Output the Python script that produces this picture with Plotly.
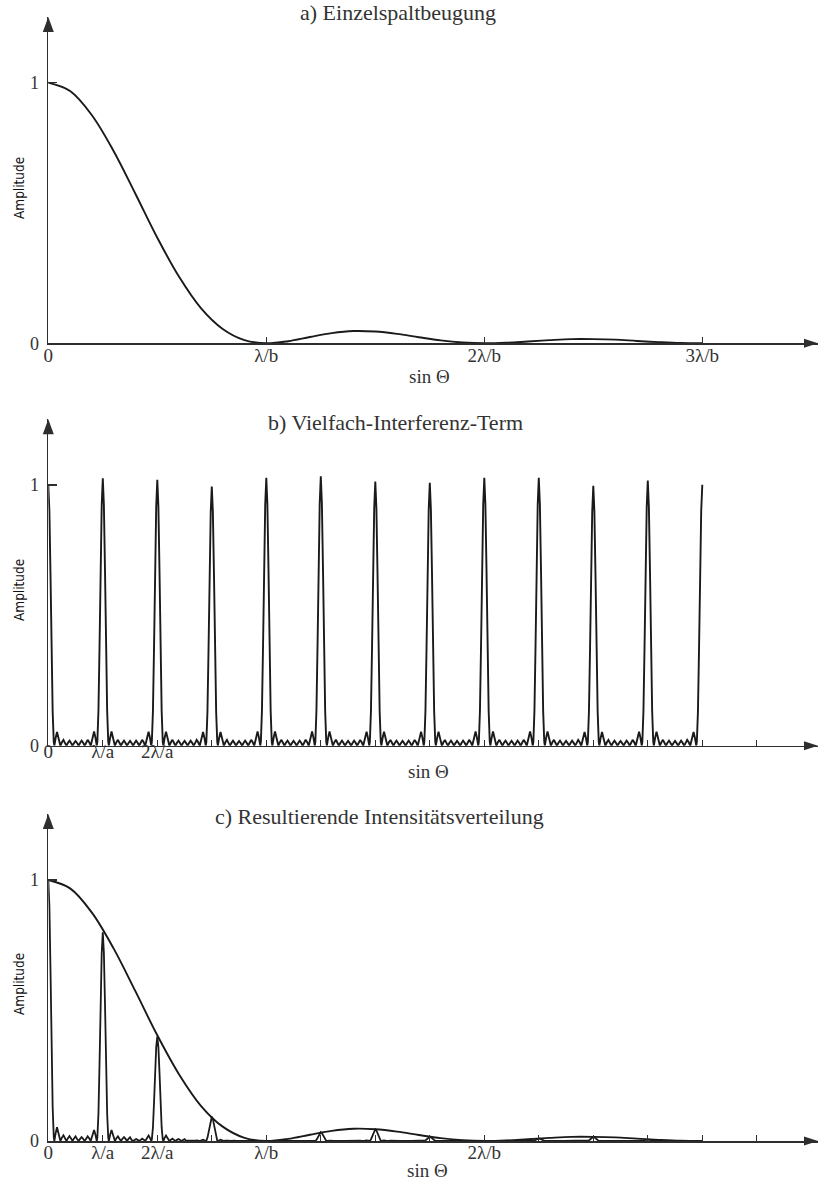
import plotly.graph_objects as go

W, H = 819, 1184

# ---------------- data ----------------
# single-slit envelope, sin Θ in units of λ/b
ENV_X = [0.0, 0.1, 0.2, 0.3, 0.4, 0.5, 0.6, 0.7, 0.8, 0.9, 1.0,
         1.1, 1.2, 1.3, 1.4, 1.5, 1.6, 1.7, 1.8, 1.9, 2.0,
         2.1, 2.2, 2.3, 2.4, 2.5, 2.6, 2.7, 2.8, 2.9, 3.0]
ENV_Y = [1.0, 0.968, 0.875, 0.737, 0.573, 0.405, 0.255, 0.135, 0.055, 0.012, 0.0,
         0.008, 0.024, 0.039, 0.047, 0.045, 0.036, 0.023, 0.011, 0.003, 0.0,
         0.002, 0.007, 0.012, 0.016, 0.016, 0.014, 0.009, 0.0045, 0.001, 0.0]

# multi-slit term: shape of one period around a principal maximum
# (offset in units of λ/a, mirrored on both sides of each maximum)
GRATING_OFFSETS = [0.0, 0.02, 0.04, 0.06, 0.08, 0.10, 0.111, 0.135, 0.16, 0.19, 0.222,
                   0.25, 0.278, 0.305, 0.333, 0.361, 0.389, 0.417, 0.444, 0.472, 0.5]
GRATING_PROFILE = [1.0, 0.90, 0.66, 0.37, 0.13, 0.015, 0.0, 0.030, 0.053, 0.027, 0.0,
                   0.013, 0.022, 0.011, 0.0, 0.011, 0.019, 0.010, 0.0, 0.010, 0.018]

ORDERS = [0, 1, 2, 3, 4, 5, 6, 7, 8, 9, 10, 11, 12]
PEAK_HEIGHTS_B = [1.0, 1.026, 1.02, 0.994, 1.028, 1.033, 1.013, 1.008, 1.028, 1.028, 0.997, 1.017, 1.001]
PEAK_HEIGHTS_C = [1.0, 0.80, 0.40, 0.093, 0.0, 0.034, 0.045, 0.016, 0.0, 0.010, 0.016, 0.006, 0.0]
A_OVER_B = 4  # λ/a = (λ/b) / 4

TICKS_A = [0, 1, 2, 3]
TICKTEXT_A = ["0", "λ/b", "2λ/b", "3λ/b"]
TICKS_BC = [0, 0.25, 0.5, 0.75, 1.0, 1.25, 1.5, 1.75, 2.0, 2.25, 2.5, 2.75, 3.0, 3.25]
TICKTEXT_B = ["0", "λ/a", "2λ/a", "", "", "", "", "", "", "", "", "", "", ""]
TICKTEXT_C = ["0", "λ/a", "2λ/a", "", "λ/b", "", "", "", "2λ/b", "", "", "", "", ""]
YTICKS = [0, 1]
YTICKTEXT = ["0", "1"]

TITLES = ["a) Einzelspaltbeugung", "b) Vielfach-Interferenz-Term",
          "c) Resultierende Intensitätsverteilung"]


def grating_curve(heights):
    xs, ys = [], []
    last = len(ORDERS) - 1
    for k, h in zip(ORDERS, heights):
        if k > 0:
            for d, v in zip(reversed(GRATING_OFFSETS), reversed(GRATING_PROFILE)):
                if d == 0.5:
                    continue
                xs.append((k - d) / A_OVER_B)
                ys.append(h * v)
        if k < last:
            for d, v in zip(GRATING_OFFSETS, GRATING_PROFILE):
                if d == 0 and k > 0:
                    continue
                xs.append((k + d) / A_OVER_B)
                ys.append(h * v)
    return xs, ys


def px(xp):
    return xp / W


def py(yp):
    return 1 - yp / H


# ---------------- geometry (window pixels) ----------------
X0, XR, PX_LB = 48.3, 818.0, 218.0
XMAX = (XR - X0) / PX_LB
YMAX = 1.2525
# (axis pixel row, pixels per unit)
PANELS = [(343.3, 260.6), (745.7, 260.7), (1141.0, 261.0)]

LINE = "#1a1a1a"
AXC = "#2e2e2e"
SERIF = "Liberation Serif, Times New Roman, serif"
SANS_C = "DejaVu Sans Condensed, DejaVu Sans, sans-serif"

fig = go.Figure()

fig.add_trace(go.Scatter(x=ENV_X, y=ENV_Y, mode="lines", line=dict(color=LINE, width=1.9, shape="spline"),
                         xaxis="x", yaxis="y", showlegend=False, hoverinfo="skip"))
bx, by = grating_curve(PEAK_HEIGHTS_B)
fig.add_trace(go.Scatter(x=bx, y=by, mode="lines", line=dict(color=LINE, width=1.9),
                         xaxis="x2", yaxis="y2", showlegend=False, hoverinfo="skip"))
cx, cy = grating_curve(PEAK_HEIGHTS_C)
fig.add_trace(go.Scatter(x=cx, y=cy, mode="lines", line=dict(color=LINE, width=1.8),
                         xaxis="x3", yaxis="y3", showlegend=False, hoverinfo="skip"))
fig.add_trace(go.Scatter(x=ENV_X, y=ENV_Y, mode="lines", line=dict(color=LINE, width=1.9, shape="spline"),
                         xaxis="x3", yaxis="y3", showlegend=False, hoverinfo="skip"))

layout = dict(width=W, height=H, margin=dict(l=0, r=0, t=0, b=0, autoexpand=False),
              paper_bgcolor="white", plot_bgcolor="white", showlegend=False)

xtick_sets = [(TICKS_A, TICKTEXT_A, -6), (TICKS_BC, TICKTEXT_B, -12), (TICKS_BC, TICKTEXT_C, -6)]
shapes, annotations = [], []
xd = [px(X0), px(XR)]
for i, ((axis_px, scale), (tv, tt, stand)) in enumerate(zip(PANELS, xtick_sets)):
    n = "" if i == 0 else str(i + 1)
    top_px = axis_px - YMAX * scale
    yd = [py(axis_px), py(top_px)]
    layout["xaxis" + n] = dict(domain=xd, range=[0, XMAX], anchor="y" + n, automargin=False,
                               showline=True, linecolor=AXC, linewidth=1.6, mirror=False,
                               ticks="inside", ticklen=6, tickwidth=1.3, tickcolor=AXC,
                               tickvals=tv, ticktext=tt, ticklabelstandoff=stand,
                               tickfont=dict(family=SERIF, size=19, color="#333"),
                               showgrid=False, zeroline=False, fixedrange=True)
    layout["yaxis" + n] = dict(domain=yd, range=[0, YMAX], anchor="x" + n, automargin=False,
                               showline=True, linecolor=AXC, linewidth=1.6,
                               ticks="inside", ticklen=9, tickwidth=1.3, tickcolor=AXC,
                               tickvals=YTICKS, ticktext=YTICKTEXT, ticklabelstandoff=4,
                               tickfont=dict(family=SERIF, size=18, color="#333"),
                               showgrid=False, zeroline=False, fixedrange=True)
    # arrowheads at the axis ends
    shapes.append(dict(type="path", xref="paper", yref="paper", xsizemode="pixel", ysizemode="pixel",
                       xanchor=px(XR), yanchor=py(axis_px),
                       path="M 0,0 L -14,4.5 L -14,-4.5 Z", fillcolor=AXC, line=dict(width=0)))
    shapes.append(dict(type="path", xref="paper", yref="paper", xsizemode="pixel", ysizemode="pixel",
                       xanchor=px(X0), yanchor=py(top_px),
                       path="M 0,0 L -5.5,-15 L 5.5,-15 Z", fillcolor=AXC, line=dict(width=0)))

TITLE_POS = [(398, 13), (395, 423), (379, 816)]
SIN_POS = [(429, 376), (428, 772), (427, 1170)]
AMP_POS = [(19, 188), (19, 590), (19, 984)]
for t, (tx, ty), (sx, sy), (ax_, ay_) in zip(TITLES, TITLE_POS, SIN_POS, AMP_POS):
    annotations.append(dict(text=t, x=px(tx), y=py(ty), xref="paper", yref="paper",
                            xanchor="center", yanchor="middle", showarrow=False,
                            font=dict(family=SERIF, size=22, color="#333")))
    annotations.append(dict(text="sin Θ", x=px(sx), y=py(sy), xref="paper", yref="paper",
                            xanchor="center", yanchor="middle", showarrow=False,
                            font=dict(family=SERIF, size=19, color="#333")))
    annotations.append(dict(text="Amplitude", x=px(ax_), y=py(ay_), xref="paper", yref="paper",
                            xanchor="center", yanchor="middle", showarrow=False, textangle=-90,
                            font=dict(family=SANS_C, size=13.5, color="#111")))

layout["shapes"] = shapes
layout["annotations"] = annotations
fig.update_layout(**layout)
fig.write_html("out.html", config={"displayModeBar": False, "staticPlot": True},
               post_script="document.body.style.margin='0px';document.body.style.overflow='hidden';")
